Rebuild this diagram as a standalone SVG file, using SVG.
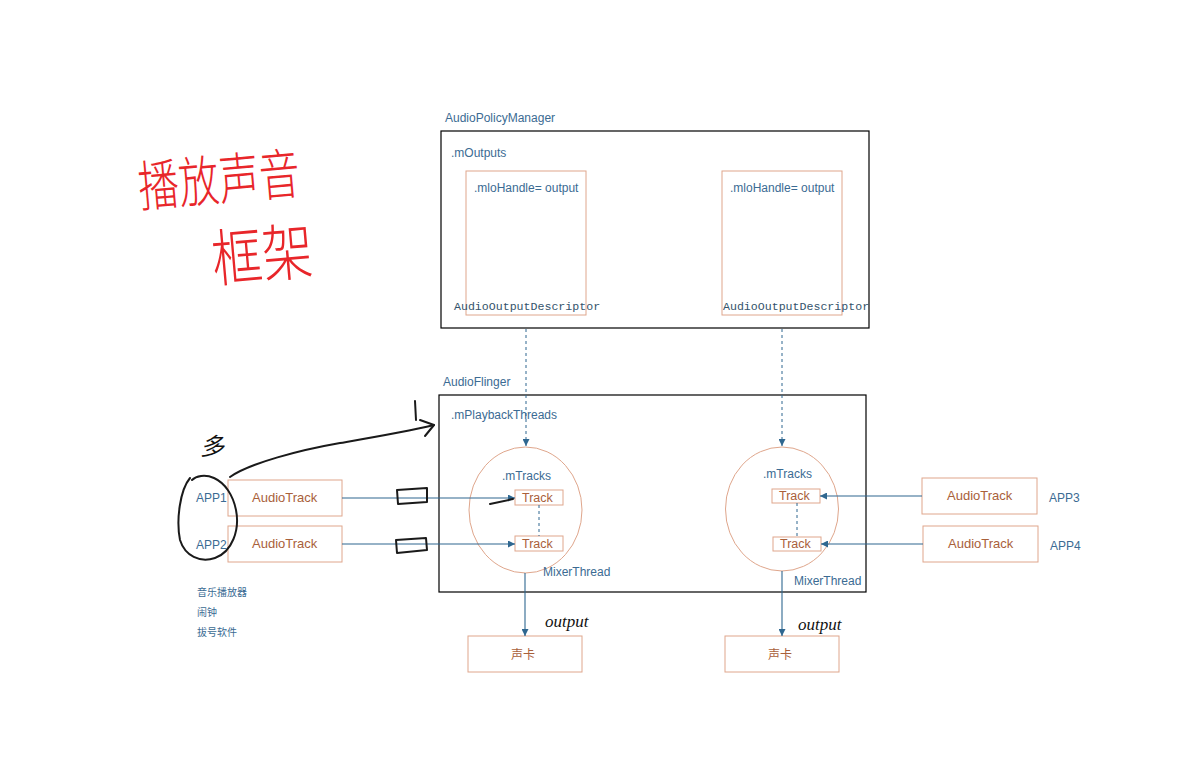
<svg xmlns="http://www.w3.org/2000/svg" width="1193" height="767" viewBox="0 0 1193 767">
<defs>
<style>
.lbl{font-family:"Liberation Sans","Noto Sans CJK SC",sans-serif;font-size:12px;fill:#3b6b93}
.mono{font-family:"Liberation Mono",monospace;font-size:11.6px;fill:#34536b}
.brn{font-family:"Liberation Sans","Noto Sans CJK SC",sans-serif;fill:#a9603a}
.box{fill:none;stroke:#000;stroke-width:1.2}
.obox{fill:#fff;stroke:#dfa68c;stroke-width:1}
.conn{fill:none;stroke:#2f6790;stroke-width:1.1}
.dash{fill:none;stroke:#2f6790;stroke-width:1;stroke-dasharray:3,3}
.hand{fill:none;stroke:#1a1a1a;stroke-width:2;stroke-linecap:round;stroke-linejoin:round}
.red{font-family:"Noto Sans CJK SC",sans-serif;fill:#e8262a;font-weight:300}
.hw{font-family:"Liberation Serif","Noto Sans CJK SC",serif;fill:#111;font-style:italic}
.sm{font-family:"Noto Sans CJK SC",sans-serif;font-size:10px;fill:#3b6b93}
</style>
<marker id="ah" viewBox="0 0 10 10" refX="10" refY="5" markerWidth="7" markerHeight="7" orient="auto" markerUnits="userSpaceOnUse"><path d="M0,0 L10,5 L0,10 z" fill="#2f6790"/></marker>
</defs>
<rect width="1193" height="767" fill="#fff"/>

<g id="title">
<text class="red" x="0" y="0" font-size="44" transform="translate(140,207) rotate(-5) scale(0.92,1.25)">播放声音</text>
<text class="red" x="0" y="0" font-size="48" transform="translate(214,282) rotate(-5) scale(1.05,1.3)">框架</text>
</g>

<g id="audiopolicymanager">
<text class="lbl" x="445" y="122">AudioPolicyManager</text>
<rect class="box" x="441" y="131" width="428" height="197"/>
<text class="lbl" x="451" y="157">.mOutputs</text>
</g>
<g id="desc1">
<rect class="obox" x="466" y="171" width="120" height="144"/>
<text class="lbl" x="474" y="192">.mloHandle= output</text>
<text class="mono" x="454" y="310">AudioOutputDescriptor</text>
</g>
<g id="desc2">
<rect class="obox" x="722" y="171" width="120" height="144"/>
<text class="lbl" x="730" y="192">.mloHandle= output</text>
<text class="mono" x="723" y="310">AudioOutputDescriptor</text>
</g>

<g id="audioflinger">
<text class="lbl" x="443" y="386">AudioFlinger</text>
<rect class="box" x="439" y="395" width="427" height="197"/>
<text class="lbl" x="451" y="419">.mPlaybackThreads</text>
</g>

<g id="mixer1">
<ellipse cx="525.5" cy="510" rx="56.5" ry="63" fill="none" stroke="#dfa68c" stroke-width="1"/>
<text class="lbl" x="502" y="480" font-size="10.5">.mTracks</text>
<rect class="obox" x="515" y="490" width="48" height="15"/>
<text class="brn" x="522" y="502" font-size="12.5">Track</text>
<rect class="obox" x="515" y="536" width="48" height="15"/>
<text class="brn" x="522" y="548" font-size="12.5">Track</text>
<text class="lbl" x="543" y="576">MixerThread</text>
</g>
<g id="mixer2">
<ellipse cx="782" cy="509" rx="56.5" ry="62" fill="none" stroke="#dfa68c" stroke-width="1"/>
<text class="lbl" x="763" y="478" font-size="10.5">.mTracks</text>
<rect class="obox" x="772" y="489" width="48" height="14"/>
<text class="brn" x="779" y="500" font-size="12.5">Track</text>
<rect class="obox" x="773" y="537" width="48" height="14"/>
<text class="brn" x="780" y="548" font-size="12.5">Track</text>
<text class="lbl" x="794" y="585">MixerThread</text>
</g>

<g id="apps-left">
<text class="lbl" x="196" y="502" font-size="10.5">APP1</text>
<text class="lbl" x="196" y="549" font-size="10.5">APP2</text>
<rect class="obox" x="228" y="480" width="114" height="36"/>
<text class="brn" x="252" y="502" font-size="13">AudioTrack</text>
<rect class="obox" x="228" y="526" width="114" height="36"/>
<text class="brn" x="252" y="548" font-size="13">AudioTrack</text>
<text class="sm" x="197" y="596">音乐播放器</text>
<text class="sm" x="197" y="616">闹钟</text>
<text class="sm" x="197" y="636">拔号软件</text>
</g>
<g id="apps-right">
<rect class="obox" x="922" y="478" width="115" height="36"/>
<text class="brn" x="947" y="500" font-size="13">AudioTrack</text>
<rect class="obox" x="923" y="526" width="115" height="36"/>
<text class="brn" x="948" y="548" font-size="13">AudioTrack</text>
<text class="lbl" x="1049" y="502" font-size="10.5">APP3</text>
<text class="lbl" x="1050" y="550" font-size="10.5">APP4</text>
</g>

<g id="soundcard1">
<rect class="obox" x="468" y="636" width="114" height="36"/>
<text class="brn" x="511" y="659" font-size="12">声卡</text>
</g>
<g id="soundcard2">
<rect class="obox" x="725" y="636" width="114" height="36"/>
<text class="brn" x="768" y="659" font-size="12">声卡</text>
</g>

<g id="connectors">
<line class="dash" x1="526" y1="329" x2="526" y2="446" marker-end="url(#ah)"/>
<line class="dash" x1="782" y1="329" x2="782" y2="446" marker-end="url(#ah)"/>
<line class="dash" x1="539" y1="505" x2="539" y2="536"/>
<line class="dash" x1="797" y1="503" x2="797" y2="537"/>
<line class="conn" x1="342" y1="498" x2="515" y2="498" marker-end="url(#ah)"/>
<line class="conn" x1="342" y1="544" x2="515" y2="544" marker-end="url(#ah)"/>
<line class="conn" x1="922" y1="496" x2="820" y2="496" marker-end="url(#ah)"/>
<line class="conn" x1="923" y1="544" x2="821" y2="544" marker-end="url(#ah)"/>
<line class="conn" x1="525" y1="573" x2="525" y2="636" marker-end="url(#ah)"/>
<line class="conn" x1="782" y1="571" x2="782" y2="636" marker-end="url(#ah)"/>
</g>

<g id="annotations">
<path class="hand" d="M190,478 C180,490 176,520 180,540 C185,556 200,563 215,558 C232,552 240,530 236,510 C233,495 225,483 214,478 C205,474 196,476 192,480"/>
<path class="hand" d="M230,477 C250,463 300,450 340,443 C375,437 405,432 434,425"/>
<path class="hand" d="M420,420 L434,425 L425,436"/>
<path class="hand" d="M415,401 L416,420" stroke-width="1.6"/>
<text class="hw" x="200" y="455" font-size="24" font-style="normal" font-family="Noto Sans CJK SC,sans-serif">多</text>
<path class="hand" d="M397,490 L427,488 L427,502 L398,504 Z M397,490 L398,504" stroke-width="1.8"/>
<path class="hand" d="M396,540 L426,538 L427,550 L397,553 Z" stroke-width="1.8"/>
<path class="hand" d="M490,504 L513,499" stroke-width="2.4"/>
<text class="hw" x="545" y="627" font-size="17">output</text>
<text class="hw" x="798" y="630" font-size="17">output</text>
</g>
</svg>
